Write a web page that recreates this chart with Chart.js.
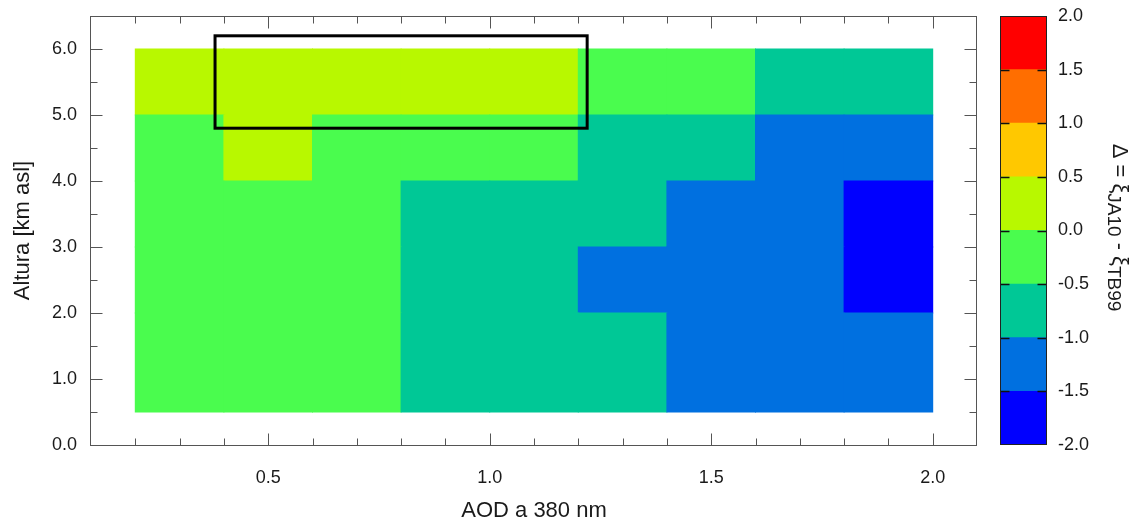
<!DOCTYPE html>
<html>
<head>
<meta charset="utf-8">
<script src="https://cdn.jsdelivr.net/npm/chart.js@4.4.0/dist/chart.umd.min.js"></script>
<style>
  html, body { margin: 0; padding: 0; background: #fff; }
  #contenedor { position: relative; width: 1136px; height: 522px; }
  canvas { position: absolute; top: 0; }
  #mapa { left: 0; }
  #barra { left: 990px; }
</style>
</head>
<body>
<div id="contenedor">
  <canvas id="mapa" width="990" height="522"></canvas>
  <canvas id="barra" width="146" height="522"></canvas>
</div>
<script>
/* ---------- Datos ---------- */
// bordes de las celdas
const aodBordes = [0.2, 0.4, 0.6, 0.8, 1.0, 1.2, 1.4, 1.6, 1.8, 2.0];
const alturaBordes = [0.5, 2.0, 3.0, 4.0, 5.0, 6.0];

// Δ = ξJA10 - ξTB99, una fila por capa de altura (de abajo hacia arriba)
const deltaFila1 = [-0.21, -0.28, -0.35, -0.62, -0.71, -0.88, -1.12, -1.26, -1.41];
const deltaFila2 = [-0.18, -0.26, -0.33, -0.58, -0.74, -1.06, -1.18, -1.32, -1.62];
const deltaFila3 = [-0.15, -0.22, -0.31, -0.55, -0.69, -0.92, -1.09, -1.24, -1.58];
const deltaFila4 = [-0.12, 0.08, -0.14, -0.27, -0.38, -0.56, -0.79, -1.04, -1.21];
const deltaFila5 = [0.21, 0.32, 0.28, 0.19, 0.06, -0.09, -0.34, -0.62, -0.83];
const filas = [deltaFila1, deltaFila2, deltaFila3, deltaFila4, deltaFila5];

// escala de colores
const escalaLimites = [-2.0, -1.5, -1.0, -0.5, 0.0, 0.5, 1.0, 1.5, 2.0];
const escalaColores = ['#0000ff', '#0070e0', '#00c896', '#4afc4e', '#b8f800', '#ffc800', '#ff6e00', '#ff0000'];

// ticks
const xTicks = [0.5, 1.0, 1.5, 2.0];
const yTicks = [0, 1, 2, 3, 4, 5, 6];
const escalaTicks = [-2.0, -1.5, -1.0, -0.5, 0.0, 0.5, 1.0, 1.5, 2.0];

// recuadro resaltado (AOD, altura)
const recuadroAod = [0.38, 1.22];
const recuadroAltura = [4.8, 6.2];

const familia = '"Liberation Sans", Arial, sans-serif';
const colorTexto = '#1a1a1a';
Chart.defaults.font.family = familia;

function colorDe(v) {
  for (let i = 0; i < escalaColores.length; i++) {
    if (v >= escalaLimites[i] && v < escalaLimites[i + 1]) return escalaColores[i];
  }
  return escalaColores[escalaColores.length - 1];
}

// sin relleno extra por etiquetas que sobresalen
function sinRelleno(s) {
  s.paddingTop = 0; s.paddingBottom = 0; s.paddingLeft = 0; s.paddingRight = 0;
}

/* ---------- Plugin: marco, ticks hacia adentro y recuadro ---------- */
const marco = {
  id: 'marco',
  afterDatasetsDraw(chart) {
    const { ctx, chartArea: a, scales: { x, y } } = chart;
    const L = Math.round(a.left) - 0.5, R = Math.round(a.right) - 0.5;
    const T = Math.round(a.top) + 0.5, B = Math.round(a.bottom) + 0.5;
    ctx.save();

    // recuadro negro
    const x0 = x.getPixelForValue(recuadroAod[0]), x1 = x.getPixelForValue(recuadroAod[1]);
    const y0 = y.getPixelForValue(recuadroAltura[1]), y1 = y.getPixelForValue(recuadroAltura[0]);
    ctx.strokeStyle = '#000';
    ctx.lineWidth = 3;
    ctx.strokeRect(x0, y0, x1 - x0, y1 - y0);

    // ejes
    ctx.strokeStyle = '#555';
    ctx.lineWidth = 1;
    ctx.strokeRect(L, T, R - L, B - T);

    ctx.beginPath();
    for (let i = 2; i <= 20; i++) {
      const v = i / 10;
      const len = (i % 5 === 0) ? 12 : 7;
      const px = Math.round(x.getPixelForValue(v)) + 0.5;
      ctx.moveTo(px, B); ctx.lineTo(px, B - len);
      ctx.moveTo(px, T); ctx.lineTo(px, T + len);
    }
    for (let i = 1; i <= 12; i++) {
      const v = i / 2;
      const len = (i % 2 === 0) ? 12 : 7;
      const py = Math.round(y.getPixelForValue(v)) + 0.5;
      ctx.moveTo(L, py); ctx.lineTo(L + len, py);
      ctx.moveTo(R, py); ctx.lineTo(R - len, py);
    }
    ctx.stroke();
    ctx.restore();
  }
};

/* ---------- Mapa de Δ ---------- */
new Chart(document.getElementById('mapa'), {
  type: 'bar',
  data: {
    datasets: filas.map((fila, r) => ({
      data: fila.map((v, c) => ({
        x: (aodBordes[c] + aodBordes[c + 1]) / 2,
        y: [alturaBordes[r], alturaBordes[r + 1]]
      })),
      backgroundColor: fila.map(colorDe),
      borderWidth: 0,
      grouped: false,
      barPercentage: 1,
      categoryPercentage: 1,
      inflateAmount: 0.5
    }))
  },
  options: {
    responsive: false,
    animation: false,
    devicePixelRatio: 1,
    layout: { padding: { top: 16, right: 13, left: 0, bottom: 0 } },
    plugins: { legend: { display: false }, tooltip: { enabled: false } },
    scales: {
      x: {
        type: 'linear', min: 0.1, max: 2.1, offset: false,
        grid: { display: false, drawTicks: false },
        border: { display: false },
        afterBuildTicks: s => { s.ticks = xTicks.map(v => ({ value: v })); },
        afterFit: s => { s.height = 77; sinRelleno(s); },
        ticks: { padding: 22, color: colorTexto, font: { size: 18 }, maxRotation: 0, autoSkip: false,
                 callback: v => Number(v).toFixed(1) },
        title: { display: true, text: 'AOD a 380 nm', color: colorTexto,
                 font: { size: 22, lineHeight: 1 }, padding: { top: 0, bottom: 0 } }
      },
      y: {
        type: 'linear', min: 0, max: 6.5,
        grid: { display: false, drawTicks: false },
        border: { display: false },
        afterBuildTicks: s => { s.ticks = yTicks.map(v => ({ value: v })); },
        afterFit: s => { s.width = 91; sinRelleno(s); },
        ticks: { padding: 14, color: colorTexto, font: { size: 18 }, autoSkip: false,
                 callback: v => Number(v).toFixed(1) },
        title: { display: true, text: 'Altura [km asl]', color: colorTexto,
                 font: { size: 22, lineHeight: 1 }, padding: { top: 12, bottom: 0 } }
      }
    }
  },
  plugins: [marco]
});

/* ---------- Barra de colores ---------- */
const barraMarco = {
  id: 'barraMarco',
  afterDatasetsDraw(chart) {
    const { ctx, chartArea: a, scales: { y } } = chart;
    const L = Math.round(a.left) + 0.5, R = Math.round(a.right) - 0.5;
    const T = Math.round(a.top) + 0.5, B = Math.round(a.bottom) - 0.5;
    ctx.save();
    ctx.strokeStyle = '#111';
    ctx.lineWidth = 1.5;
    ctx.beginPath();
    escalaLimites.slice(1, -1).forEach(v => {
      const py = Math.round(y.getPixelForValue(v)) + 0.5;
      ctx.moveTo(L, py); ctx.lineTo(L + 9, py);
      ctx.moveTo(R, py); ctx.lineTo(R - 9, py);
    });
    ctx.stroke();
    ctx.lineWidth = 1;
    ctx.strokeStyle = '#222';
    ctx.strokeRect(L, T, R - L, B - T);
    ctx.restore();
  }
};

const barraTitulo = {
  id: 'barraTitulo',
  afterDraw(chart) {
    const { ctx, chartArea: a } = chart;
    const partes = [
      { t: 'Δ = ξ', size: 22, dy: 0 },
      { t: 'JA10', size: 19, dy: 5 },
      { t: ' - ξ', size: 22, dy: 0 },
      { t: 'TB99', size: 19, dy: 5 }
    ];
    ctx.save();
    let total = 0;
    partes.forEach(p => {
      ctx.font = p.size + 'px ' + familia;
      p.w = ctx.measureText(p.t).width;
      total += p.w;
    });
    ctx.translate(123, a.top + a.height / 2 - 3);
    ctx.rotate(Math.PI / 2);
    ctx.fillStyle = colorTexto;
    ctx.textBaseline = 'alphabetic';
    let pos = -total / 2;
    partes.forEach(p => {
      ctx.font = p.size + 'px ' + familia;
      ctx.fillText(p.t, pos, p.dy);
      pos += p.w;
    });
    ctx.restore();
  }
};

new Chart(document.getElementById('barra'), {
  type: 'bar',
  data: {
    labels: [''],
    datasets: escalaColores.map((c, i) => ({
      data: [[escalaLimites[i], escalaLimites[i + 1]]],
      backgroundColor: c,
      borderWidth: 0,
      grouped: false,
      barPercentage: 1,
      categoryPercentage: 1,
      inflateAmount: 0.5
    }))
  },
  options: {
    responsive: false,
    animation: false,
    devicePixelRatio: 1,
    layout: { padding: { left: 10, top: 16, bottom: 77, right: 0 } },
    plugins: { legend: { display: false }, tooltip: { enabled: false } },
    scales: {
      x: { display: false },
      y: {
        position: 'right', min: -2, max: 2,
        grid: { display: false, drawTicks: false },
        border: { display: false },
        afterBuildTicks: s => { s.ticks = escalaTicks.map(v => ({ value: v })); },
        afterFit: s => { s.width = 89; sinRelleno(s); },
        ticks: { padding: 11, color: colorTexto, font: { size: 18 }, autoSkip: false,
                 callback: v => Number(v).toFixed(1) }
      }
    }
  },
  plugins: [barraMarco, barraTitulo]
});
</script>
</body>
</html>
